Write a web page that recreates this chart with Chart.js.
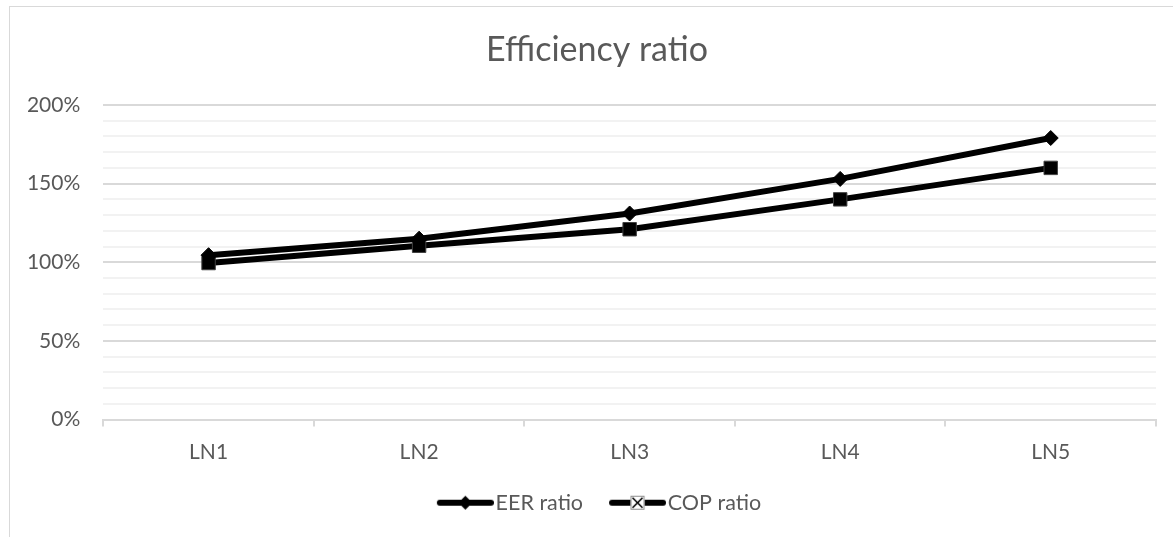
<!DOCTYPE html>
<html>
<head>
<meta charset="utf-8">
<script src="https://cdn.jsdelivr.net/npm/chart.js@4.4.1/dist/chart.umd.min.js"></script>
<style>
  html, body { margin: 0; padding: 0; background: #ffffff; }
  #wrap { width: 1173px; height: 537px; position: relative; }
</style>
</head>
<body>
<div id="wrap"><canvas id="c" width="1173" height="537"></canvas></div>
<script>
// ---- data ----
const categories = ['LN1', 'LN2', 'LN3', 'LN4', 'LN5'];
const eerRatio = [104.5, 115, 131, 153, 179];
const copRatio = [99.5, 110.5, 121, 140, 160];
const seriesNames = ['EER ratio', 'COP ratio'];
const yMin = 0, yMax = 200, yMinorStep = 10, yMajorStep = 50;

const TEXT = '#595959';
const FONT = 'Lato';

// legend marker images (line + marker, like the spreadsheet legend)
function legendImage(kind) {
  const c = document.createElement('canvas');
  c.width = 72; c.height = 18;
  const g = c.getContext('2d');
  const a = 15, cy = 9, cx = a + 28.5;
  g.strokeStyle = '#000'; g.lineWidth = 6; g.lineCap = 'round';
  g.beginPath(); g.moveTo(a + 3, cy); g.lineTo(a + 54, cy); g.stroke();
  if (kind === 'diamond') {
    g.fillStyle = '#000';
    g.beginPath();
    g.moveTo(cx, cy - 7); g.lineTo(cx + 7, cy); g.lineTo(cx, cy + 7); g.lineTo(cx - 7, cy);
    g.closePath(); g.fill();
  } else {
    g.fillStyle = '#fff';
    g.fillRect(cx - 7, cy - 7, 14, 14);
    g.strokeStyle = '#8c8c8c'; g.lineWidth = 1;
    g.strokeRect(cx - 6.5, cy - 6.5, 13, 13);
    g.strokeStyle = '#000'; g.lineWidth = 1.6; g.lineCap = 'butt';
    g.beginPath();
    g.moveTo(cx - 5, cy - 5); g.lineTo(cx + 5, cy + 5);
    g.moveTo(cx + 5, cy - 5); g.lineTo(cx - 5, cy + 5);
    g.stroke();
  }
  return c;
}
const legendImgs = [legendImage('diamond'), legendImage('xbox')];

const framePlugin = {
  id: 'frame',
  beforeDraw(chart) {
    const ctx = chart.ctx;
    ctx.save();
    ctx.fillStyle = '#fff';
    ctx.fillRect(0, 0, chart.width, chart.height);
    ctx.strokeStyle = '#d9d9d9';
    ctx.lineWidth = 1;
    ctx.strokeRect(9.5, 6.5, chart.width + 20, chart.height + 20);
    ctx.restore();
  }
};

// centre title and legend on the outer frame rather than on the padded canvas
const centerPlugin = {
  id: 'centerOnFrame',
  afterLayout(chart) {
    if (chart.titleBlock) { chart.titleBlock.left += 9; chart.titleBlock.right += 9; }
    if (chart.legend) { chart.legend.left += 8; chart.legend.right += 8; }
  }
};

new Chart(document.getElementById('c'), {
  type: 'line',
  data: {
    labels: categories,
    datasets: [
      {
        label: seriesNames[0],
        data: eerRatio,
        borderColor: '#000',
        backgroundColor: '#000',
        borderWidth: 6,
        tension: 0,
        pointStyle: 'rectRot',
        pointRadius: 7.5,
        pointHoverRadius: 7.5,
        pointBackgroundColor: '#000',
        pointBorderColor: '#000',
        pointBorderWidth: 1,
        fill: false
      },
      {
        label: seriesNames[1],
        data: copRatio,
        borderColor: '#000',
        backgroundColor: '#000',
        borderWidth: 6,
        tension: 0,
        pointStyle: 'rect',
        pointRadius: 9.5,
        pointHoverRadius: 9.5,
        pointBackgroundColor: '#000',
        pointBorderColor: '#404040',
        pointBorderWidth: 1,
        fill: false
      }
    ]
  },
  options: {
    responsive: false,
    animation: false,
    layout: { padding: { left: 20, right: 17, top: 6, bottom: 13.5 } },
    plugins: {
      title: {
        display: true,
        text: 'Efficiency ratio',
        color: TEXT,
        font: { family: FONT, size: 34, weight: 'normal', lineHeight: 1.2 },
        padding: { top: 23.6, bottom: 34.6 }
      },
      legend: {
        display: true,
        position: 'bottom',
        labels: {
          usePointStyle: true,
          pointStyleWidth: 54,
          padding: 20,
          color: TEXT,
          font: { family: FONT, size: 21.5 },
          generateLabels(chart) {
            const items = Chart.defaults.plugins.legend.labels.generateLabels(chart);
            items.forEach((it, i) => { it.pointStyle = legendImgs[i]; it.fontColor = TEXT; });
            return items;
          }
        }
      },
      tooltip: { enabled: false }
    },
    scales: {
      x: {
        offset: true,
        afterFit(s) { s.height = 52.5; },
        grid: {
          display: true,
          offset: true,
          drawOnChartArea: false,
          drawTicks: true,
          tickLength: 7,
          color: '#d9d9d9',
          lineWidth: 2
        },
        border: { display: true, color: '#d9d9d9', width: 2 },
        ticks: {
          color: TEXT,
          font: { family: FONT, size: 21 },
          padding: 13,
          maxRotation: 0
        }
      },
      y: {
        min: yMin,
        max: yMax,
        afterFit(s) { s.width = 83.3; },
        border: { display: false },
        grid: {
          drawTicks: false,
          lineWidth: 2,
          color(ctx) {
            return (ctx.tick && ctx.tick.value % yMajorStep === 0) ? '#d9d9d9' : '#f2f2f2';
          }
        },
        ticks: {
          stepSize: yMinorStep,
          autoSkip: false,
          padding: 23,
          color: TEXT,
          font: { family: FONT, size: 21 },
          callback(v) { return v % yMajorStep === 0 ? v + '%' : ''; }
        }
      }
    }
  },
  plugins: [framePlugin, centerPlugin]
});
</script>
</body>
</html>
